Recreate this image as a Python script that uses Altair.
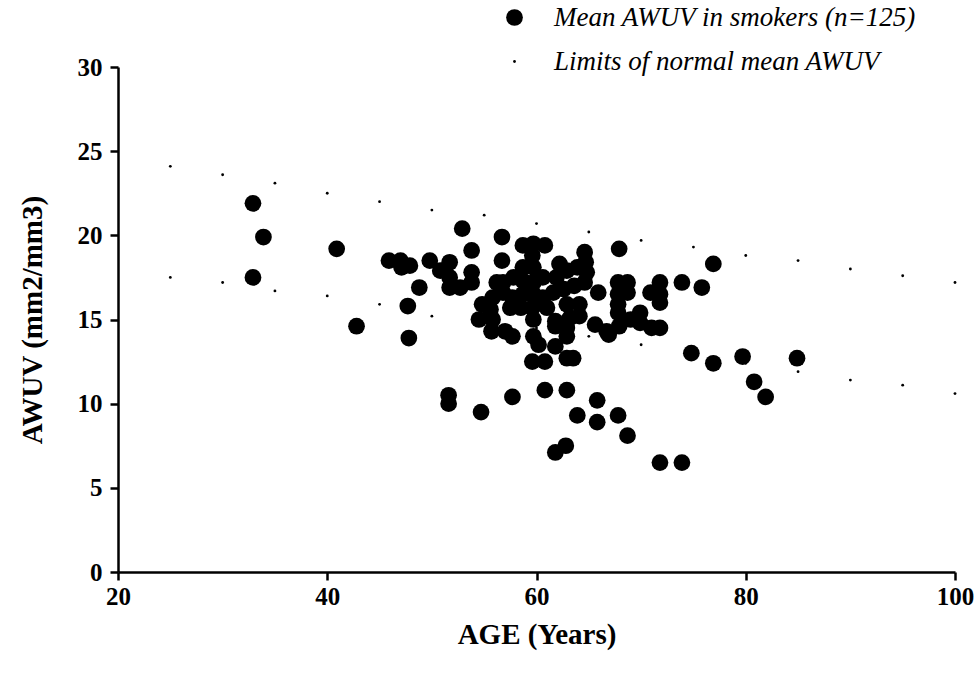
import altair as alt
import pandas as pd

# Mean AWUV in smokers (age in years, AWUV in mm2/mm3)
smoker_age = [32.9, 33.9, 32.9, 40.9, 42.8, 45.9, 47.0, 47.1, 47.9, 47.7,
              47.8, 48.8, 49.8, 50.8, 51.7, 51.7, 51.7, 52.7, 52.9, 53.8,
              53.8, 53.8, 51.6, 51.6, 54.7, 54.5, 55.6, 55.7, 55.8, 56.7,
              56.7, 56.8, 56.8, 55.8, 57.8, 57.7, 57.5, 57.7, 57.7, 58.7,
              58.7, 58.7, 58.5, 59.6, 59.7, 59.6, 59.7, 59.7, 59.7, 59.7,
              59.7, 59.6, 60.8, 60.6, 60.8, 60.8, 61.6, 61.9, 61.8, 61.8,
              61.8, 61.8, 62.9, 62.6, 62.9, 63.2, 62.9, 62.9, 62.9, 62.9,
              62.8, 63.9, 63.6, 64.1, 64.1, 63.9, 64.7, 64.6, 64.6, 64.8,
              65.9, 65.6, 65.8, 65.8, 66.7, 67.9, 67.8, 67.8, 67.8, 67.8,
              67.9, 67.8, 68.7, 68.7, 68.7, 69.9, 69.9, 70.9, 71.0, 71.8,
              71.8, 71.8, 71.8, 71.8, 73.9, 73.9, 74.8, 75.8, 76.9, 76.9,
              79.7, 80.8, 81.9, 84.9, 56.2, 54.8, 58.7, 60.6, 61.0, 62.2,
              66.9, 57.0, 63.5, 60.2, 69.0]
smoker_awuv = [21.9, 19.9, 17.5, 19.2, 14.6, 18.5, 18.5, 18.1, 18.2, 15.8,
               13.9, 16.9, 18.5, 17.9, 18.4, 17.5, 16.9, 16.9, 20.4, 19.1,
               17.8, 17.2, 10.5, 10.0, 9.5, 15.0, 15.6, 14.3, 16.3, 19.9,
               18.5, 17.2, 16.6, 15.0, 17.5, 16.3, 15.7, 14.0, 10.4, 19.4,
               18.1, 17.3, 15.7, 15.7, 19.5, 18.8, 18.1, 17.2, 16.5, 15.0,
               14.0, 12.5, 19.4, 16.3, 12.5, 10.8, 16.6, 17.5, 14.9, 14.6,
               13.4, 7.1, 17.9, 16.8, 15.9, 15.1, 14.5, 14.0, 12.7, 10.8,
               7.5, 18.1, 17.0, 15.9, 15.2, 9.3, 18.4, 17.2, 19.0, 17.8,
               16.6, 14.7, 10.2, 8.9, 14.3, 19.2, 17.2, 16.5, 15.9, 15.4,
               14.6, 9.3, 17.2, 16.6, 8.1, 15.4, 14.8, 16.6, 14.5, 17.2,
               16.5, 16.0, 14.5, 6.5, 17.2, 6.5, 13.0, 16.9, 18.3, 12.4,
               12.8, 11.3, 10.4, 12.7, 17.2, 15.9, 16.5, 17.5, 15.7, 18.3,
               14.1, 14.3, 12.7, 13.5, 15.0]

# Limits of normal mean AWUV (upper and lower)
limit_age = [25, 30, 35, 40, 45, 50, 55, 60, 65, 70, 75, 80, 85, 90, 95, 100]
upper_limit = [24.1, 23.6, 23.1, 22.5, 22.0, 21.5, 21.2, 20.7, 20.2, 19.7,
               19.3, 18.8, 18.5, 18.0, 17.6, 17.2]
lower_limit = [17.5, 17.2, 16.7, 16.4, 15.9, 15.2, 14.9, 14.5, 14.0, 13.5,
               13.0, 12.4, 11.9, 11.4, 11.1, 10.6]

S1 = "Mean AWUV in smokers (n=125)"
S2 = "Limits of normal mean AWUV"

rows = [{"age": a, "awuv": v, "series": S1} for a, v in zip(smoker_age, smoker_awuv)]
rows += [{"age": a, "awuv": v, "series": S2} for a, v in zip(limit_age, upper_limit)]
rows += [{"age": a, "awuv": v, "series": S2} for a, v in zip(limit_age, lower_limit)]
df = pd.DataFrame(rows)

FONT = "Liberation Serif"

chart = alt.Chart(df).mark_circle(color="black", opacity=1).encode(
    x=alt.X("age:Q", title="AGE (Years)",
            scale=alt.Scale(domain=[20, 100], nice=False, zero=False),
            axis=alt.Axis(values=[20, 40, 60, 80, 100], titlePadding=11,
                          labelFlush=False)),
    y=alt.Y("awuv:Q", title="AWUV (mm2/mm3)",
            scale=alt.Scale(domain=[0, 30], nice=False),
            axis=alt.Axis(values=[0, 5, 10, 15, 20, 25, 30], titlePadding=30,
                          labelFlush=False, labelPadding=8)),
    size=alt.Size("series:N",
                  scale=alt.Scale(domain=[S1, S2], range=[280, 8]),
                  legend=alt.Legend(title=None, orient="none", legendX=383, legendY=-63,
                                    labelFont=FONT, labelFontStyle="italic",
                                    labelFontSize=27, labelColor="black", labelLimit=0,
                                    labelOffset=26, rowPadding=16,
                                    symbolFillColor="black", symbolStrokeColor="black",
                                    symbolStrokeWidth=0, symbolType="circle")),
).properties(
    width=837, height=505,
    autosize=alt.AutoSizeParams(type="none"),
    padding={"left": 118, "top": 67, "right": 19, "bottom": 102},
).configure_view(
    stroke=None
).configure_axis(
    grid=False,
    domainColor="black", domainWidth=2.5,
    tickColor="black", tickWidth=2.5, tickSize=8,
    labelFont=FONT, labelFontWeight="bold", labelFontSize=25, labelColor="black",
    labelPadding=4,
    titleFont=FONT, titleFontWeight="bold", titleFontSize=29, titleColor="black",
)

chart.save("out.html", embed_options={"renderer": "svg", "actions": False})
